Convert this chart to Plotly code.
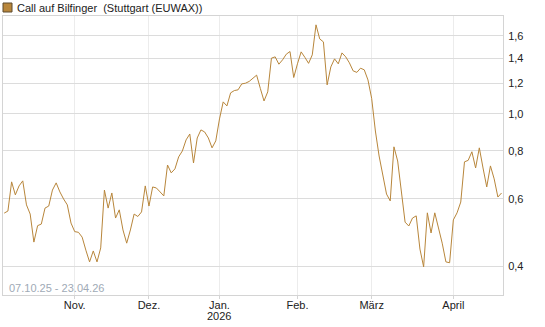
import pandas as pd
import plotly.graph_objects as go

# Trading days (Stuttgart), first and last label from the chart
holidays = ["2025-12-24", "2025-12-25", "2025-12-26", "2025-12-31",
            "2026-01-01", "2026-04-03", "2026-04-06"]
all_days = [d for d in pd.bdate_range("2025-10-07", "2026-04-23")
            if d.strftime("%Y-%m-%d") not in holidays]

prices = [
    0.550, 0.557, 0.664, 0.614, 0.648, 0.668, 0.578, 0.547, 0.462, 0.510,
    0.515, 0.567, 0.574, 0.632, 0.660, 0.625, 0.599, 0.578, 0.518, 0.492,
    0.490, 0.476, 0.440, 0.410, 0.438, 0.410, 0.446, 0.632, 0.567, 0.621,
    0.534, 0.561, 0.497, 0.459, 0.497, 0.547, 0.539, 0.554, 0.648, 0.574,
    0.644, 0.640, 0.625, 0.610, 0.735, 0.701, 0.718, 0.772, 0.800, 0.855,
    0.886, 0.744, 0.865, 0.908, 0.897, 0.865, 0.815, 0.850, 0.970, 1.075,
    1.049, 1.135, 1.151, 1.156, 1.198, 1.203, 1.216, 1.242, 1.263, 1.166,
    1.081, 1.142, 1.399, 1.410, 1.349, 1.385, 1.433, 1.456, 1.245, 1.352,
    1.453, 1.406, 1.356, 1.427, 1.710, 1.571, 1.543, 1.191, 1.327, 1.393,
    1.352, 1.444, 1.410, 1.360, 1.296, 1.284, 1.317, 1.304, 1.227, 1.098,
    0.902, 0.776, 0.684, 0.617, 0.592, 0.820, 0.753, 0.632, 0.521, 0.509,
    0.534, 0.541, 0.443, 0.398, 0.551, 0.488, 0.551, 0.503, 0.459, 0.410,
    0.408, 0.528, 0.551, 0.588, 0.749, 0.756, 0.796, 0.722, 0.815, 0.722,
    0.644, 0.731, 0.676, 0.606, 0.621,
]
dates = all_days[:len(prices)]

month_labels = {11: "Nov.", 12: "Dez.", 1: "Jan.", 2: "Feb.", 3: "März", 4: "April"}
year_label = "2026"
y_ticks = [0.4, 0.6, 0.8, 1.0, 1.2, 1.4, 1.6]
y_labels = ["0,4", "0,6", "0,8", "1,0", "1,2", "1,4", "1,6"]

# first trading day of each month -> tick positions
x_idx = list(range(len(prices)))
tickvals, ticktext = [], []
jan_pos = None
for i, d in enumerate(dates):
    if i > 0 and d.month != dates[i - 1].month and d.month in month_labels:
        tickvals.append(i)
        ticktext.append(month_labels[d.month])
        if d.month == 1:
            jan_pos = i

FONT = "Liberation Sans, Arial, sans-serif"
LINE_COLOR = "#b8863b"

fig = go.Figure()
fig.add_trace(go.Scatter(
    x=x_idx, y=prices, mode="lines",
    line=dict(color=LINE_COLOR, width=1),
    text=[d.strftime("%d.%m.%y") for d in dates],
    hoverinfo="text+y", showlegend=False,
))

fig.update_layout(
    width=545, height=327,
    margin=dict(l=3, r=42, t=16, b=32, autoexpand=False),
    paper_bgcolor="white", plot_bgcolor="white",
    font=dict(family=FONT, size=11, color="#222222"),
    showlegend=False,
)
fig.update_xaxes(
    range=[-0.323, 134.38], automargin=False,
    tickmode="array", tickvals=tickvals, ticktext=ticktext,
    showgrid=True, gridcolor="#ececec", gridwidth=1,
    showline=True, linecolor="#d4d4d4", linewidth=1, mirror=True,
    ticks="outside", ticklen=3, tickcolor="#d4d4d4",
    ticklabelstandoff=-3,
    tickfont=dict(family=FONT, size=11, color="#222222"),
    zeroline=False, fixedrange=True,
)
fig.update_yaxes(
    type="log", range=[-0.4738, 0.2561], side="right", automargin=False,
    tickmode="array", tickvals=y_ticks, ticktext=y_labels,
    showgrid=True, gridcolor="#dcdcdc", gridwidth=1,
    showline=True, linecolor="#d4d4d4", linewidth=1, mirror=True,
    ticks="", ticklabelstandoff=2,
    tickfont=dict(family=FONT, size=11, color="#222222"),
    zeroline=False, fixedrange=True,
)

# year label below "Jan."
fig.add_annotation(xref="x", yref="paper", x=jan_pos, y=(295 - 316) / 279,
                   xanchor="center", yanchor="middle", showarrow=False,
                   text=year_label,
                   font=dict(family=FONT, size=11, color="#222222"))

# legend square + title text
fig.add_shape(type="rect", xref="paper", yref="paper",
              x0=(3 - 3) / 500, x1=(12 - 3) / 500,
              y0=(295 - 12) / 279, y1=(295 - 3) / 279,
              fillcolor=LINE_COLOR, line=dict(color="#5c4a2e", width=1))
fig.add_annotation(xref="paper", yref="paper",
                   x=(15 - 3) / 500, y=(295 - 7.5) / 279,
                   xanchor="left", yanchor="middle", showarrow=False,
                   text="Call auf Bilfinger\u00a0 (Stuttgart (EUWAX))",
                   font=dict(family=FONT, size=11, color="#222222"))
fig.add_annotation(xref="paper", yref="paper",
                   x=(7 - 3) / 500, y=(295 - 288) / 279,
                   xanchor="left", yanchor="middle", showarrow=False,
                   text="07.10.25 - 23.04.26",
                   font=dict(family=FONT, size=11, color="#a0aab6"))

fig.write_html("out.html")
